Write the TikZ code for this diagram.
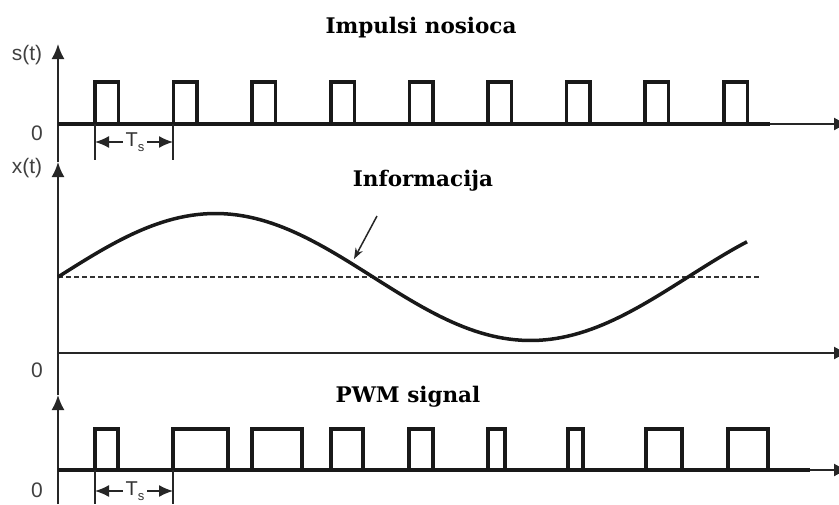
\documentclass[tikz,border=0pt]{standalone}
\usepackage{fontspec}
\setmainfont{DejaVu Serif}
\setsansfont{Liberation Sans}
\usetikzlibrary{arrows.meta}

\newcommand{\Ts}{T\raisebox{-0.45ex}{\fontsize{13}{13}\selectfont s}}

\begin{document}
\begin{tikzpicture}[
    x=1pt, y=-1pt,
    axis/.style={line width=1.9pt, draw=black!85, -{Latex[length=15pt,width=13pt]}},
    wave/.style={line width=3.5pt, draw=black!90, line join=miter},
    title/.style={font=\fontsize{21.5}{24}\selectfont\bfseries, anchor=base, inner sep=0pt},
    lbl/.style={font=\sffamily\fontsize{21}{24}\selectfont, text=black!75, inner sep=0pt},
    tslbl/.style={font=\sffamily\fontsize{20}{22}\selectfont, text=black!80, inner sep=2.5pt},
    tick/.style={line width=1.6pt, draw=black!85},
    tsarrow/.style={tick, -{Latex[length=14pt,width=12pt]}}
]
    \useasboundingbox (0,0) rectangle (839,504);

    % Axes
    \draw[axis] (58,504) -- (58,395);
    \draw[axis] (58,395) -- (58,162);
    \draw[axis] (58,162) -- (58,44);
    \draw[axis] (58,124) -- (849,124);
    \draw[axis] (58,353) -- (849,353);
    \draw[axis] (58,470) -- (849,470);

    % Axis labels
    \node[lbl] (st) at (27,55) {s(t)};
    \node[lbl] (xt) at (27,168) {x(t)};
    \node[lbl] (zeroA) at (37,133) {0};
    \node[lbl] (zeroB) at (37,370) {0};
    \node[lbl] (zeroC) at (37,490) {0};

    % Titles
    \node[title] (carrier) at (421,33) {Impulsi nosioca};
    \node[title] (info) at (423,186) {Informacija};
    \node[title] (pwm) at (408,402) {PWM signal};

    % Carrier pulses
    \draw[wave] (58,124) -- (770,124);
    \foreach \k in {0,...,8}
        \draw[wave] ({95+78.6*\k},124) -- ({95+78.6*\k},82)
            -- ({118.5+78.6*\k},82) -- ({118.5+78.6*\k},124);

    % Ts (carrier)
    \draw[tick] (95,124) -- (95,160);
    \draw[tick] (173,124) -- (173,160);
    \coordinate (tsAl) at (95,142);
    \coordinate (tsAr) at (173,142);
    \node[tslbl] (tsA) at (135,142) {\Ts};
    \draw[tsarrow] (tsA.west) -- (tsAl);
    \draw[tsarrow] (tsA.east) -- (tsAr);

    % Information signal
    \draw[line width=1.6pt, draw=black!80, dash pattern=on 5pt off 3pt] (58,277) -- (760,277);
    \draw[line width=3.5pt, draw=black!90] plot[domain=58:747, samples=120]
        (\x, {277-63.5*sin((\x-58)/1.75)});
    \coordinate (ptrtail) at (377,216);
    \coordinate (ptrhead) at (354,259);
    \draw[line width=1.5pt, draw=black!85, -{Stealth[length=11pt,width=8pt]}] (ptrtail) -- (ptrhead);

    % PWM pulses
    \draw[wave] (58,470) -- (810,470);
    \foreach \s/\w in {95/23, 173/55, 252/50, 331/32, 409/24, 488/17, 568/15, 646/36, 728/40}
        \draw[wave] (\s,470) -- (\s,429) -- ({\s+\w},429) -- ({\s+\w},470);

    % Ts (PWM)
    \draw[tick] (95,470) -- (95,504);
    \draw[tick] (173,470) -- (173,504);
    \coordinate (tsBl) at (95,491);
    \coordinate (tsBr) at (173,491);
    \node[tslbl] (tsB) at (135,491) {\Ts};
    \draw[tsarrow] (tsB.west) -- (tsBl);
    \draw[tsarrow] (tsB.east) -- (tsBr);
\end{tikzpicture}
\end{document}
